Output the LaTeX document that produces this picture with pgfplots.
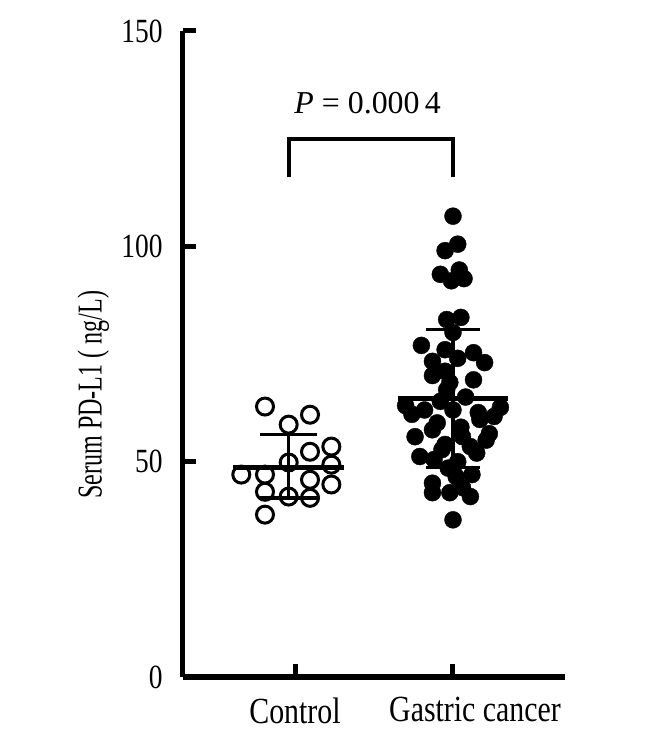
\documentclass[border=0pt]{standalone}
\usepackage{pgfplots}
\pgfplotsset{compat=1.18}
\usepackage{fontspec}
\setmainfont{Liberation Serif}
\newfontfamily\condserif[FakeStretch=0.81]{Liberation Serif}
\newfontfamily\narrowserif[FakeStretch=0.69]{Liberation Serif}

\begin{document}
\begin{tikzpicture}
\begin{axis}[
  scale only axis,
  width=382bp, height=646bp,
  xmin=0.291, xmax=2.709,
  ymin=0, ymax=150,
  axis x line*=bottom, axis y line*=left,
  axis line style={-, line width=5bp, black},
  xtick={1,2}, xticklabels={Control, \hspace*{44bp}Gastric cancer},
  ytick={0,50,100,150},
  tick align=inside,
  major tick length=13bp,
  tick style={line width=5bp, black},
  /pgf/number format/assume math mode=true,
  yticklabel style={font=\condserif\fontsize{34}{38}\selectfont, xshift=-17bp},
  xticklabel style={font=\condserif\fontsize{37}{40}\selectfont, yshift=-17bp},
  ylabel={Serum PD-L1 ( ng/L)},
  ylabel style={font=\narrowserif\fontsize{35}{38}\selectfont,
    at={(axis description cs:-0.235,0.437)}, rotate=0, anchor=center},
  clip=false,
]
% control group (open circles)
\addplot[only marks, mark=o, mark size=8.5bp, mark options={line width=3bp, black}]
  coordinates {
  (0.81,62.8) (1.095,60.9) (0.96,58.6) (1.23,53.5) (1.095,52.3)
  (0.96,49.8) (1.23,49.3) (0.66,47.0) (0.81,47.0) (1.095,45.8)
  (1.23,44.7) (0.81,43.0) (0.96,41.9) (1.095,41.6) (0.81,37.7)
  };
% gastric cancer group (filled circles)
\addplot[only marks, mark=*, mark size=8.5bp, mark options={black, fill=black}]
  table {
  x y
  2.00 107.0
  2.03 100.5
  1.95 99.0
  2.04 94.5
  1.92 93.5
  2.07 92.5
  1.99 92.0
  1.96 83.0
  2.05 83.5
  2.00 80.0
  1.80 77.0
  1.95 76.0
  2.13 75.3
  2.03 74.0
  1.87 73.3
  2.20 73.0
  1.95 71.0
  1.87 70.0
  2.13 69.0
  1.98 68.4
  1.96 66.7
  2.08 65.0
  1.92 64.0
  1.70 63.0
  2.30 62.6
  1.82 62.0
  2.00 62.0
  2.16 61.4
  1.74 61.0
  2.26 60.5
  2.17 59.8
  1.90 59.0
  2.05 58.0
  1.87 57.4
  2.23 56.5
  1.76 55.8
  2.06 55.8
  2.21 55.0
  1.95 54.0
  2.11 53.5
  1.93 52.8
  2.15 52.0
  1.79 51.2
  1.88 50.5
  2.03 50.0
  1.97 48.5
  2.12 47.0
  2.02 46.5
  1.87 45.0
  2.06 44.0
  1.87 42.8
  1.98 42.8
  2.11 41.9
  2.00 36.5
  };
% mean and SD lines, control
\addplot[line width=4.5bp, black] coordinates {(0.61,48.6) (1.31,48.6)};
\addplot[line width=3.5bp, black] coordinates {(0.78,56.3) (1.14,56.3)};
\addplot[line width=3.5bp, black] coordinates {(0.78,41.6) (1.14,41.6)};
\addplot[line width=3.5bp, black] coordinates {(0.96,41.6) (0.96,56.3)};
% mean and SD lines, gastric cancer
\addplot[line width=4.5bp, black] coordinates {(1.65,64.7) (2.35,64.7)};
\addplot[line width=3.5bp, black] coordinates {(1.83,80.7) (2.17,80.7)};
\addplot[line width=3.5bp, black] coordinates {(1.83,48.6) (2.17,48.6)};
\addplot[line width=3.5bp, black] coordinates {(2.00,48.6) (2.00,80.7)};
% significance bracket
\addplot[line width=4bp, black] coordinates {(0.96,116) (0.96,125) (2.0,125) (2.0,116)};
\node[font=\fontsize{32}{36}\selectfont] at (axis cs:1.46,133.3) {\textit{P} = 0.000\,4};
\end{axis}
\pgfresetboundingbox
\path[use as bounding box] (-183bp,-57bp) rectangle (486bp,677bp);
\end{tikzpicture}
\end{document}
